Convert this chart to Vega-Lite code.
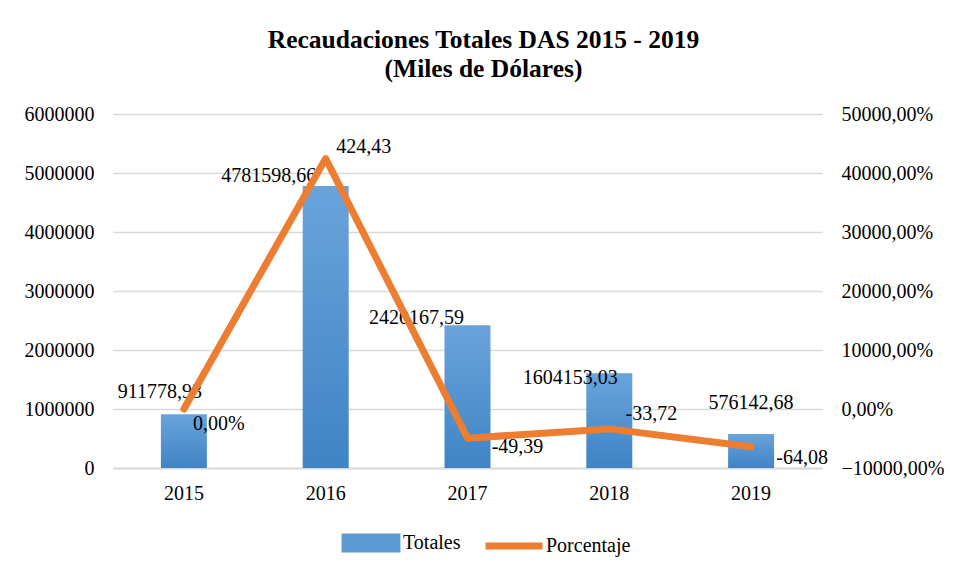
{
  "$schema": "https://vega.github.io/schema/vega-lite/v6.json",
  "autosize": {"type": "none"},
  "width": 709,
  "height": 354,
  "padding": {"left": 113, "top": 114, "right": 142, "bottom": 109},
  "background": "white",
  "title": {
    "text": ["Recaudaciones Totales DAS 2015 - 2019", "(Miles de Dólares)"],
    "font": "Liberation Serif",
    "fontSize": 25.5,
    "fontWeight": "bold",
    "color": "black",
    "anchor": "middle",
    "dx": 16,
    "offset": 22,
    "lineHeight": 29
  },
  "data": {
    "values": [
      {"year": "2015", "Totales": 911778.93, "Porcentaje": 0, "labelTot": "911778,93", "labelPct": "0,00%"},
      {"year": "2016", "Totales": 4781598.66, "Porcentaje": 42443, "labelTot": "4781598,66", "labelPct": "424,43"},
      {"year": "2017", "Totales": 2420167.59, "Porcentaje": -4939, "labelTot": "2420167,59", "labelPct": "-49,39"},
      {"year": "2018", "Totales": 1604153.03, "Porcentaje": -3372, "labelTot": "1604153,03", "labelPct": "-33,72"},
      {"year": "2019", "Totales": 576142.68, "Porcentaje": -6408, "labelTot": "576142,68", "labelPct": "-64,08"}
    ]
  },
  "encoding": {
    "x": {
      "field": "year",
      "type": "ordinal",
      "scale": {"paddingInner": 0, "paddingOuter": 0},
      "axis": {
        "title": null,
        "labelAngle": 0,
        "labelFont": "Liberation Serif",
        "labelFontSize": 20,
        "labelColor": "black",
        "labelPadding": 15,
        "ticks": false,
        "domainColor": "#d9d9d9",
        "domainWidth": 2
      }
    }
  },
  "layer": [
    {
      "encoding": {
        "y": {
          "field": "Totales",
          "type": "quantitative",
          "scale": {"domain": [0, 6000000], "nice": false, "zero": true}
        }
      },
      "layer": [
        {
          "mark": {
            "type": "bar",
            "size": 46,
            "color": {
              "gradient": "linear",
              "x1": 0, "y1": 0, "x2": 0, "y2": 1,
              "stops": [
                {"offset": 0, "color": "#6aa3dc"},
                {"offset": 1, "color": "#3f84c5"}
              ]
            }
          },
          "encoding": {
            "y": {
              "field": "Totales",
              "type": "quantitative",
              "axis": {
                "orient": "left",
                "title": null,
                "values": [0, 1000000, 2000000, 3000000, 4000000, 5000000, 6000000],
                "format": "d",
                "labelFont": "Liberation Serif",
                "labelFontSize": 20,
                "labelColor": "black",
                "labelPadding": 19,
                "ticks": false,
                "domain": false,
                "grid": true,
                "gridColor": "#d9d9d9",
                "gridWidth": 1.5
              }
            }
          }
        },
        {
          "transform": [{"filter": "datum.year == '2015'"}],
          "mark": {"type": "text", "font": "Liberation Serif", "fontSize": 20, "color": "black", "align": "center", "baseline": "middle", "dx": -24, "dy": -22},
          "encoding": {"text": {"field": "labelTot"}}
        },
        {
          "transform": [{"filter": "datum.year == '2016'"}],
          "mark": {"type": "text", "font": "Liberation Serif", "fontSize": 20, "color": "black", "align": "center", "baseline": "middle", "dx": -57, "dy": -10},
          "encoding": {"text": {"field": "labelTot"}}
        },
        {
          "transform": [{"filter": "datum.year == '2017'"}],
          "mark": {"type": "text", "font": "Liberation Serif", "fontSize": 20, "color": "black", "align": "center", "baseline": "middle", "dx": -51, "dy": -7},
          "encoding": {"text": {"field": "labelTot"}}
        },
        {
          "transform": [{"filter": "datum.year == '2018'"}],
          "mark": {"type": "text", "font": "Liberation Serif", "fontSize": 20, "color": "black", "align": "center", "baseline": "middle", "dx": -39, "dy": 5},
          "encoding": {"text": {"field": "labelTot"}}
        },
        {
          "transform": [{"filter": "datum.year == '2019'"}],
          "mark": {"type": "text", "font": "Liberation Serif", "fontSize": 20, "color": "black", "align": "center", "baseline": "middle", "dx": 0, "dy": -31},
          "encoding": {"text": {"field": "labelTot"}}
        }
      ]
    },
    {
      "encoding": {
        "y": {
          "field": "Porcentaje",
          "type": "quantitative",
          "scale": {"domain": [-10000, 50000], "nice": false, "zero": false}
        }
      },
      "layer": [
        {
          "mark": {"type": "line", "strokeWidth": 7, "strokeJoin": "round", "strokeCap": "round"},
          "encoding": {
            "y": {
              "field": "Porcentaje",
              "type": "quantitative",
              "axis": {
                "orient": "right",
                "title": null,
                "values": [-10000, 0, 10000, 20000, 30000, 40000, 50000],
                "labelExpr": "replace(format(datum.value, '.2f'), '.', ',') + '%'",
                "labelFont": "Liberation Serif",
                "labelFontSize": 20,
                "labelColor": "black",
                "labelPadding": 19,
                "ticks": false,
                "domain": false,
                "grid": false
              }
            },
            "color": {
              "datum": "Porcentaje",
              "scale": {"domain": ["Totales", "Porcentaje"], "range": ["#5b9bd5", "#ed7d31"]},
              "legend": {
                "title": null,
                "orient": "none",
                "legendX": 226,
                "legendY": 397,
                "direction": "horizontal",
                "padding": 0,
                "labelFont": "Liberation Serif",
                "labelFontSize": 20,
                "labelColor": "black",
                "labelOffset": 0,
                "columnPadding": 10,
                "symbolSize": 3249,
                "symbolStrokeWidth": 7,
                "encode": {
                  "symbols": {
                    "update": {
                      "shape": [
                        {"test": "datum.value === 'Totales'", "value": "M-0.91,-0.21H0.91V0.21H-0.91Z"},
                        {"value": "stroke"}
                      ],
                      "fill": [
                        {"test": "datum.value === 'Totales'", "value": "#5b9bd5"},
                        {"value": "transparent"}
                      ],
                      "stroke": [
                        {"test": "datum.value === 'Totales'", "value": "transparent"},
                        {"value": "#ed7d31"}
                      ],
                      "strokeWidth": {"value": 7},
                      "opacity": {"value": 1}
                    }
                  }
                }
              }
            }
          }
        },
        {
          "transform": [{"filter": "datum.year == '2015'"}],
          "mark": {"type": "text", "font": "Liberation Serif", "fontSize": 20, "color": "black", "align": "center", "baseline": "middle", "dx": 35, "dy": 15},
          "encoding": {"text": {"field": "labelPct"}}
        },
        {
          "transform": [{"filter": "datum.year == '2016'"}],
          "mark": {"type": "text", "font": "Liberation Serif", "fontSize": 20, "color": "black", "align": "center", "baseline": "middle", "dx": 38, "dy": -12},
          "encoding": {"text": {"field": "labelPct"}}
        },
        {
          "transform": [{"filter": "datum.year == '2017'"}],
          "mark": {"type": "text", "font": "Liberation Serif", "fontSize": 20, "color": "black", "align": "center", "baseline": "middle", "dx": 50, "dy": 9},
          "encoding": {"text": {"field": "labelPct"}}
        },
        {
          "transform": [{"filter": "datum.year == '2018'"}],
          "mark": {"type": "text", "font": "Liberation Serif", "fontSize": 20, "color": "black", "align": "center", "baseline": "middle", "dx": 42, "dy": -15},
          "encoding": {"text": {"field": "labelPct"}}
        },
        {
          "transform": [{"filter": "datum.year == '2019'"}],
          "mark": {"type": "text", "font": "Liberation Serif", "fontSize": 20, "color": "black", "align": "center", "baseline": "middle", "dx": 51, "dy": 11},
          "encoding": {"text": {"field": "labelPct"}}
        }
      ]
    }
  ],
  "resolve": {"scale": {"y": "independent"}},
  "config": {
    "view": {"stroke": null}
  }
}
